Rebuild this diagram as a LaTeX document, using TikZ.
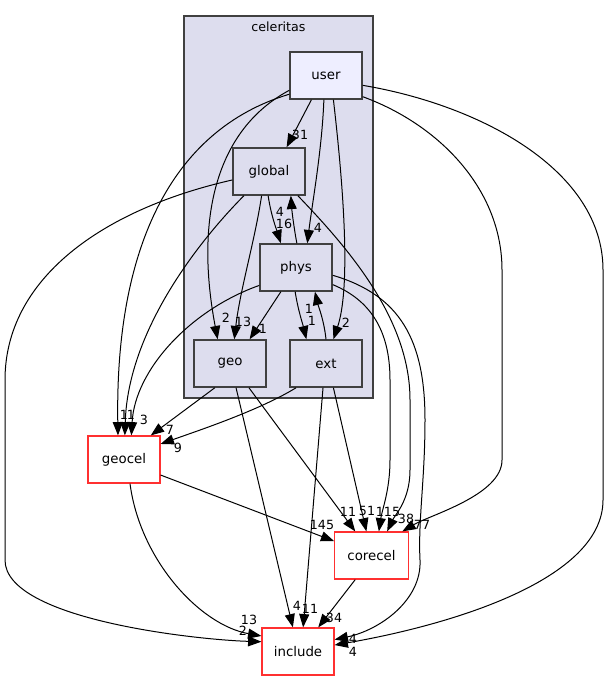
\documentclass[tikz,border=0pt]{standalone}
\usepackage{fontspec}
\setmainfont{DejaVu Sans}
\usetikzlibrary{arrows.meta}
\definecolor{clusterfill}{HTML}{DDDDEE}
\definecolor{userfill}{HTML}{EEEEFF}
\definecolor{boxline}{HTML}{404040}
\definecolor{extred}{HTML}{FF3030}
\begin{document}
\begin{tikzpicture}[x=0.75pt,y=-0.75pt,
  dirbox/.style={draw=boxline,line width=1.1pt,fill=clusterfill,minimum width=54pt,
    minimum height=35.25pt,inner sep=0pt,font=\fontsize{10}{12}\selectfont},
  userbox/.style={dirbox,fill=userfill},
  extbox/.style={dirbox,draw=extred,fill=white,line width=0.9pt},
  dep/.style={line width=0.75pt,-{Triangle[length=10pt,width=7.5pt]}},
  num/.style={inner sep=0pt,font=\fontsize{9.5}{11}\selectfont}]
  \useasboundingbox (0,0) rectangle (608,681);
  % cluster celeritas
  \draw[boxline,fill=clusterfill,line width=0.8pt] (184,16) rectangle (373,398);
  \node[num] (celeritas) at (278.5,27) {celeritas};
  % directories
  \node[userbox] (user) at (326,75.5) {user};
  \node[dirbox] (global) at (269,171.5) {global};
  \node[dirbox] (phys) at (296,267.5) {phys};
  \node[dirbox] (geo) at (230,363.5) {geo};
  \node[dirbox] (ext) at (326,363.5) {ext};
  \node[extbox] (geocel) at (124,459.5) {geocel};
  \node[extbox,minimum width=55pt] (corecel) at (371.5,555.5) {corecel};
  \node[extbox] (include) at (298,651.5) {include};
  % from user
  \draw[dep] (user.-121) -- (global.54);
  \draw[dep] (user.-95) .. controls (322,150) and (312,205) .. (phys.65);
  \draw[dep] (user.-158) .. controls (215,130) and (195,220) .. (geo.117);
  \draw[dep] (user.-153) .. controls (170,130) and (115,250) .. (geocel.104);
  \draw[dep] (user.-73) .. controls (345,200) and (350,290) .. (ext.73);
  \draw[dep] (user.-30) .. controls (440,125) and (502,190) .. (502,270) -- (502,460)
    .. controls (502,495) and (430,515) .. (corecel.38);
  \draw[dep] (user.-15) .. controls (480,105) and (603,170) .. (603,270) -- (603,500)
    .. controls (603,580) and (450,625) .. (include.10);
  % from global
  \draw[dep] (global.-92) .. controls (271,215) and (276,228) .. (phys.122);
  \draw[dep] (global.-107) .. controls (255,240) and (240,290) .. (geo.80);
  \draw[dep] (global.-136) .. controls (200,240) and (128,330) .. (geocel.88);
  \draw[dep] (global.193) .. controls (100,210) and (5,280) .. (5,380) -- (5,560)
    .. controls (5,620) and (200,640) .. (include.165);
  \draw[dep] (global.-40) .. controls (350,250) and (410,320) .. (410,400) -- (410,470)
    .. controls (410,500) and (395,515) .. (corecel.57);
  % from phys
  \draw[dep] (phys.88) .. controls (294,228) and (292,212) .. (global.-48);
  \draw[dep] (phys.-122) -- (geo.51);
  \draw[dep] (phys.-154) .. controls (190,310) and (135,370) .. (geocel.73);
  \draw[dep] (phys.-92) .. controls (298,310) and (303,325) .. (ext.129);
  \draw[dep] (phys.-25) .. controls (370,300) and (390,330) .. (390,380) -- (390,460)
    .. controls (390,490) and (382,510) .. (corecel.73);
  \draw[dep] (phys.-12) .. controls (400,295) and (425,340) .. (425,420)
    .. controls (425,480) and (418,520) .. (420,560)
    .. controls (422,600) and (380,630) .. (include.18);
  % from ext
  \draw[dep] (ext.90) .. controls (324,320) and (318,305) .. (phys.-52);
  \draw[dep] (ext.-141) .. controls (260,410) and (200,430) .. (geocel.23);
  \draw[dep] (ext.-73) -- (corecel.102);
  \draw[dep] (ext.-97) -- (include.78);
  % from geo
  \draw[dep] (geo.-122) -- (geocel.42);
  \draw[dep] (geo.-52) -- (corecel.124);
  \draw[dep] (geo.-76) -- (include.102);
  % from geocel and corecel
  \draw[dep] (geocel.-23) -- (corecel.159);
  \draw[dep] (geocel.-76) .. controls (140,560) and (200,625) .. (include.157);
  \draw[dep] (corecel.-124) -- (include.50);
  % counts
  \node[num] (nUG) at (300,135) {31};
  \node[num] (nUP) at (318,228) {4};
  \node[num] (nUGe) at (226,318) {2};
  \node[num] (nUGc) at (124,415) {1};
  \node[num] (nGGc) at (131,415) {1};
  \node[num] (nUE) at (346,323) {2};
  \node[num] (nUC) at (422,525) {77};
  \node[num] (nUI) at (353,652) {4};
  \node[num] (nGP) at (284,224) {16};
  \node[num] (nPG) at (280,212) {4};
  \node[num] (nGGe) at (243,322) {13};
  \node[num] (nGI) at (243,631) {2};
  \node[num] (nGC) at (406,519) {38};
  \node[num] (nPGe) at (263,329) {1};
  \node[num] (nPGc) at (144,420) {3};
  \node[num] (nPE) at (312,321) {1};
  \node[num] (nEP) at (309,309) {1};
  \node[num] (nPC) at (388,512) {115};
  \node[num] (nPI) at (353,639) {4};
  \node[num] (nEGc) at (178,448) {9};
  \node[num] (nEC) at (367,511) {51};
  \node[num] (nEI) at (310,609) {11};
  \node[num] (nGeGc) at (170,430) {7};
  \node[num] (nGeC) at (348,512) {11};
  \node[num] (nGeI) at (297,606) {4};
  \node[num] (nGcC) at (322,525) {145};
  \node[num] (nGcI) at (249,620) {13};
  \node[num] (nCI) at (334,618) {34};
\end{tikzpicture}
\end{document}
